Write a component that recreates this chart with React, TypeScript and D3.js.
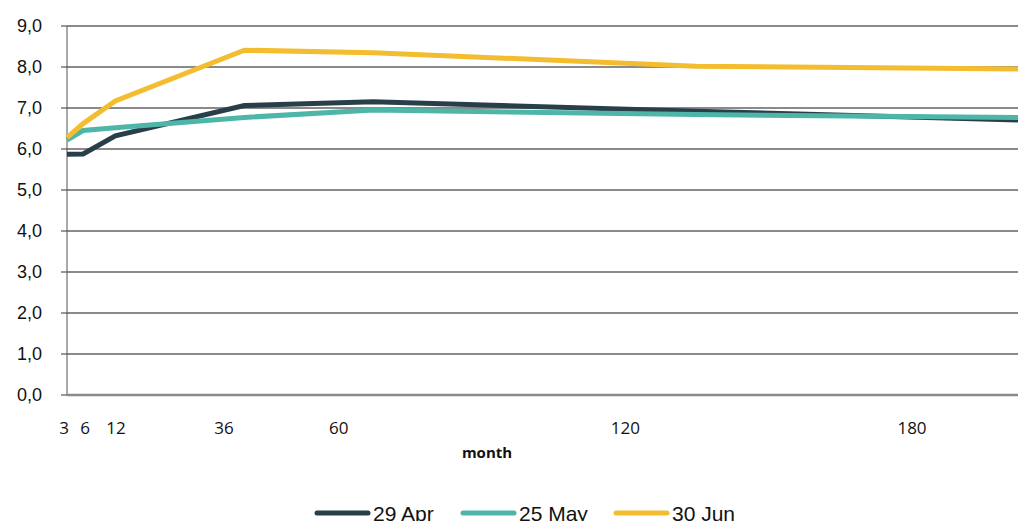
import React from "react";
import * as d3 from "d3";

const months = [3, 6, 12, 36, 60, 120, 180];
const apr29 = [5.87, 5.88, 6.32, 7.06, 7.15, 6.92, 6.71];
const may25 = [6.22, 6.45, 6.52, 6.77, 6.95, 6.84, 6.77];
const jun30 = [6.28, 6.62, 7.17, 8.41, 8.35, 8.02, 7.95];
const seriesNames = ["29 Apr", "25 May", "30 Jun"];
const seriesColors = ["#283f49", "#4db6a9", "#f3bd2f"];
const yTicks = [0, 1, 2, 3, 4, 5, 6, 7, 8, 9];
const xTickLabels = [3, 6, 12, 36, 60, 120, 180];

const W = 1018;
const H = 521;

export default function App() {
  const x = d3.scaleLinear().domain([3, 180]).range([67, 1018]);
  const xLabel = d3
    .scaleLinear()
    .domain([3, 6, 12, 36, 180])
    .range([64, 85, 116, 224, 912]);
  const y = d3.scaleLinear().domain([0, 9]).range([395, 26]);
  const allSeries = [apr29, may25, jun30];
  const line = d3
    .line<number>()
    .x((_, i) => x(months[i]))
    .y((d) => y(d));
  const fmt = (v: number) => v.toFixed(1).replace(".", ",");
  const legendX = [315, 461, 614];

  return (
    <svg
      width={W}
      height={H}
      style={{ position: "absolute", left: 0, top: 0, background: "#fff" }}
    >
      {yTicks.map((t) => (
        <g key={t}>
          {t > 0 && (
            <line x1={67} x2={W} y1={y(t)} y2={y(t)} stroke="#8a8a8a" strokeWidth={2} />
          )}
          <line x1={61} x2={67} y1={y(t)} y2={y(t)} stroke="#333" strokeWidth={1} />
          <text
            x={42}
            y={y(t)}
            dy="0.36em"
            textAnchor="end"
            fontFamily="'Liberation Sans', Arial, sans-serif"
            fontSize={18}
            fill="#111"
          >
            {fmt(t)}
          </text>
        </g>
      ))}
      <line x1={67} x2={67} y1={y(9)} y2={y(0)} stroke="#555" strokeWidth={1} />
      <line x1={67} x2={W} y1={y(0)} y2={y(0)} stroke="#8a8a8a" strokeWidth={2.5} />
      {xTickLabels.map((m) => (
        <text
          key={m}
          x={xLabel(m)}
          y={434}
          textAnchor="middle"
          fontFamily="'Open Sans', sans-serif"
          fontSize={17}
          fill="#111"
        >
          {m}
        </text>
      ))}
      <text
        x={487}
        y={458}
        textAnchor="middle"
        fontFamily="'Open Sans', sans-serif"
        fontWeight="bold"
        fontSize={15}
        fill="#111"
      >
        month
      </text>
      {allSeries.map((s, i) => (
        <path
          key={i}
          d={line(s) || ""}
          fill="none"
          stroke={seriesColors[i]}
          strokeWidth={5}
          strokeLinejoin="miter"
        />
      ))}
      {seriesNames.map((n, i) => (
        <g key={n}>
          <line
            x1={legendX[i] + 2}
            x2={legendX[i] + 53}
            y1={513}
            y2={513}
            stroke={seriesColors[i]}
            strokeWidth={5}
            strokeLinecap="round"
          />
          <text
            x={legendX[i] + 58}
            y={521}
            fontFamily="'Liberation Sans', Arial, sans-serif"
            fontSize={21}
            fill="#111"
          >
            {n}
          </text>
        </g>
      ))}
    </svg>
  );
}
